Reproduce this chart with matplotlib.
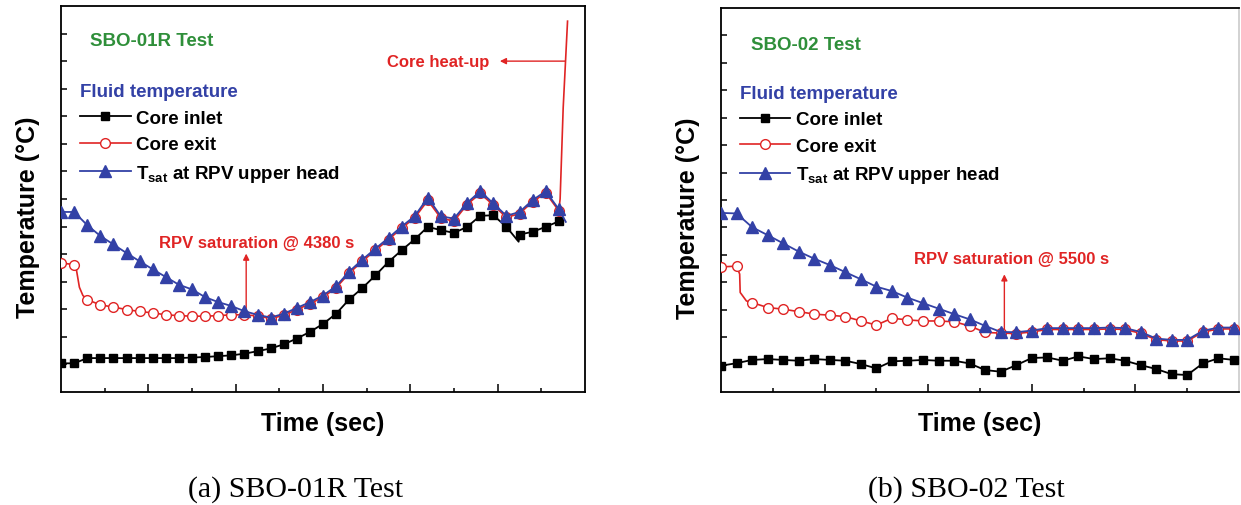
import numpy as np
import matplotlib.pyplot as plt

plt.rcParams['font.family'] = ['Liberation Sans', 'DejaVu Sans']
plt.rcParams['mathtext.default'] = 'regular'

RED = '#e02424'
BLUE = '#3341a6'
GREEN = '#2f8f3a'

# ---- (a) SBO-01R : samples every 0.3 time units (arbitrary units, no tick labels)
t_a = np.round(np.arange(0, 39) * 0.3, 2)
inlet_a = [1.04, 1.04, 1.23, 1.23, 1.23, 1.23, 1.23, 1.23, 1.23, 1.23,
           1.25, 1.27, 1.30, 1.33, 1.39, 1.48, 1.58, 1.73, 1.94, 2.18,
           2.47, 2.84, 3.36, 3.77, 4.23, 4.72, 5.14, 5.54, 5.99, 5.87,
           5.77, 5.99, 6.39, 6.41, 5.99, 5.71, 5.81, 5.99, 6.19]
exit_a = [4.68, 4.62, 3.35, 3.16, 3.08, 2.99, 2.92, 2.87, 2.80, 2.77,
          2.75, 2.75, 2.77, 2.80, 2.80, 2.76, 2.66, 2.78, 2.99, 3.20,
          3.44, 3.78, 4.31, 4.74, 5.14, 5.53, 5.94, 6.32, 6.95, 6.30,
          6.20, 6.80, 7.20, 6.78, 6.33, 6.47, 6.90, 7.22, 6.57]
tsat_a = [6.53, 6.53, 6.05, 5.66, 5.35, 5.04, 4.74, 4.45, 4.17, 3.89,
          3.72, 3.44, 3.26, 3.12, 2.93, 2.80, 2.70, 2.84, 3.05, 3.26,
          3.50, 3.84, 4.37, 4.80, 5.20, 5.59, 6.00, 6.38, 7.05, 6.37,
          6.29, 6.86, 7.28, 6.84, 6.39, 6.53, 6.96, 7.28, 6.63]
# extra line points between samples
exit_a_drop = ([0.35, 0.42, 0.50], [4.45, 3.80, 3.50])
exit_a_heatup = ([11.43, 11.50, 11.60], [7.00, 10.30, 13.45])
inlet_a_dip = ([10.48], [5.45])
tsat_a_end = ([11.56], [6.17])

# ---- (b) SBO-02
t_b = np.round(np.arange(0, 34) * 0.3, 2)
inlet_b = [0.96, 1.05, 1.17, 1.20, 1.17, 1.14, 1.20, 1.17, 1.14, 1.02,
           0.86, 1.12, 1.14, 1.17, 1.14, 1.14, 1.04, 0.80, 0.74, 0.98,
           1.24, 1.26, 1.14, 1.30, 1.20, 1.23, 1.14, 0.98, 0.84, 0.65,
           0.62, 1.04, 1.23, 1.17]
exit_b = [4.56, 4.59, 3.26, 3.08, 3.02, 2.93, 2.84, 2.80, 2.75, 2.59,
          2.44, 2.69, 2.63, 2.59, 2.59, 2.56, 2.41, 2.17, 2.15, 2.13,
          2.19, 2.28, 2.28, 2.28, 2.28, 2.30, 2.28, 2.14, 1.91, 1.86,
          1.86, 2.18, 2.30, 2.30]
tsat_b = [6.53, 6.51, 6.01, 5.72, 5.42, 5.12, 4.86, 4.63, 4.37, 4.11,
          3.84, 3.68, 3.44, 3.24, 3.04, 2.84, 2.65, 2.41, 2.19, 2.18,
          2.24, 2.33, 2.33, 2.33, 2.33, 2.35, 2.33, 2.19, 1.95, 1.90,
          1.90, 2.23, 2.35, 2.35]
exit_b_drop = ([0.36, 0.37, 0.49], [4.30, 3.63, 3.32])


def merge(t, y, *extras):
    xs = list(t)
    ys = list(y)
    for ex, ey in extras:
        xs += list(ex)
        ys += list(ey)
    order = np.argsort(xs, kind='stable')
    xs = np.array(xs)[order]
    ys = np.array(ys)[order]
    marks = [k for k, o in enumerate(order) if o < len(t)]
    return xs, ys, marks


def panel(ax, t, inlet, exitv, tsat, ex_inlet, ex_exit, ex_tsat, xmax, leg_x):
    x, y, m = merge(t, inlet, *ex_inlet)
    ax.plot(x, y, color='black', lw=1.3, marker='s', ms=5.5, markevery=m,
            label='Core inlet', zorder=3)
    x, y, m = merge(t, exitv, *ex_exit)
    ax.plot(x, y, color=RED, lw=1.2, marker='o', ms=7, mfc='white',
            mec=RED, mew=1.0, markevery=m, label='Core exit', zorder=4)
    x, y, m = merge(t, tsat, *ex_tsat)
    ax.plot(x, y, color=BLUE, lw=1.3, marker='^', ms=8.5, markevery=m,
            label=r'T$_{sat}$ at RPV upper head', zorder=5)
    ax.set_xlim(0, xmax)
    ax.set_ylim(0, 14)
    ax.set_xticks(np.arange(2, xmax, 2))
    ax.set_xticks(np.arange(1, xmax, 2), minor=True)
    ax.set_yticks(np.arange(1, 14))
    ax.tick_params(axis='both', which='both', direction='in',
                   labelbottom=False, labelleft=False, width=1.1)
    ax.tick_params(axis='x', which='major', length=6)
    ax.tick_params(axis='x', which='minor', length=3)
    ax.tick_params(axis='y', length=4)
    for s in ax.spines.values():
        s.set_linewidth(1.3)
    ax.set_xlabel('Time (sec)', fontsize=18, fontweight='bold', labelpad=14)
    ax.set_ylabel('Temperature (\u00b0C)', fontsize=18, fontweight='bold')
    ax.yaxis.set_label_coords(-0.041, 0.455)
    leg = ax.legend(loc='upper left', bbox_to_anchor=(leg_x, 0.8),
                    frameon=False, title='Fluid temperature',
                    alignment='left', handlelength=2.7, handletextpad=0.3,
                    labelspacing=0.5, borderpad=0, borderaxespad=0,
                    prop={'size': 13.5, 'weight': 'bold'})
    leg.get_title().set_color(BLUE)
    leg.get_title().set_fontweight('bold')
    leg.get_title().set_fontsize(13.5)


fig = plt.figure(figsize=(12.41, 5.06), dpi=100)
ax1 = fig.add_axes([0.0492, 0.2233, 0.4222, 0.7629])
ax2 = fig.add_axes([0.581, 0.2233, 0.4174, 0.7589])

panel(ax1, t_a, inlet_a, exit_a, tsat_a, [inlet_a_dip], [exit_a_drop, exit_a_heatup],
      [tsat_a_end], 12, 0.036)
panel(ax2, t_b, inlet_b, exit_b, tsat_b, [], [exit_b_drop], [], 10, 0.036)
ax2.spines['right'].set_color('#cfcfcf')

ax1.text(0.66, 12.74, 'SBO-01R Test', color=GREEN, fontsize=13.5,
         fontweight='bold', va='center')
ax2.text(0.57, 12.68, 'SBO-02 Test', color=GREEN, fontsize=13.5,
         fontweight='bold', va='center')

arrow = dict(arrowstyle='-|>', color=RED, lw=1.0, mutation_scale=9,
             shrinkA=0, shrinkB=0)
ax1.annotate('', xy=(10.05, 12.0), xytext=(11.54, 12.0), arrowprops=arrow)
ax1.text(9.82, 12.0, 'Core heat-up', color=RED, fontsize=12,
         fontweight='bold', ha='right', va='center')
ax1.annotate('', xy=(4.24, 5.02), xytext=(4.24, 2.84), arrowprops=arrow)
ax1.text(4.49, 5.44, 'RPV saturation @ 4380 s', color=RED, fontsize=12,
         fontweight='bold', ha='center', va='center')
ax2.annotate('', xy=(5.47, 4.29), xytext=(5.47, 2.19), arrowprops=arrow)
ax2.text(5.6, 4.86, 'RPV saturation @ 5500 s', color=RED, fontsize=12,
         fontweight='bold', ha='center', va='center')

fig.text(0.2385, 0.032, '(a) SBO-01R Test', family='Liberation Serif',
         fontsize=21.5, ha='center', va='center')
fig.text(0.779, 0.032, '(b) SBO-02 Test', family='Liberation Serif',
         fontsize=21.5, ha='center', va='center')

fig.savefig('out.png', dpi=100)
